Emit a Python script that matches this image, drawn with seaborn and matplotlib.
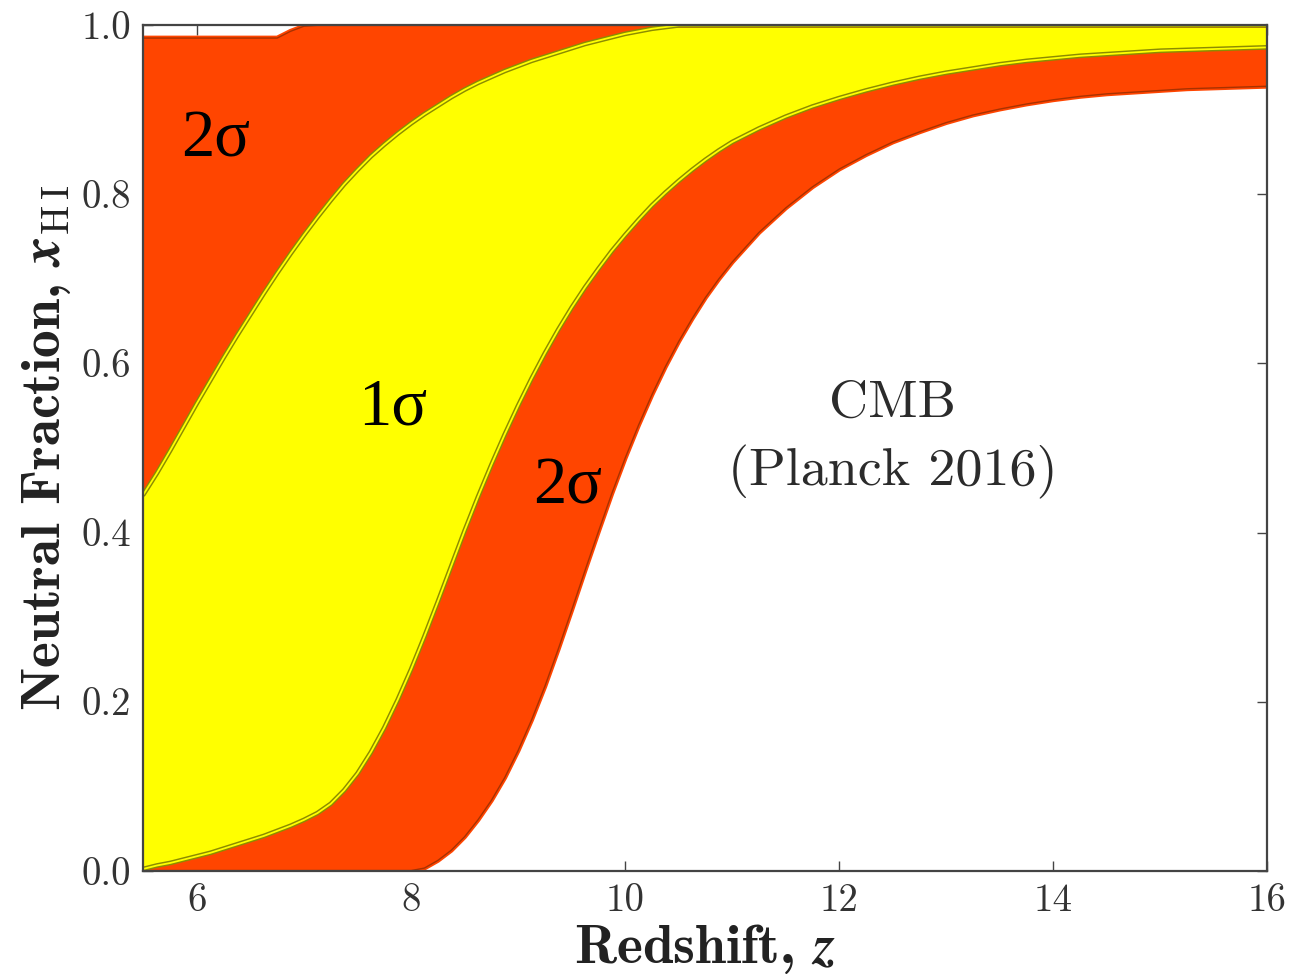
import numpy as np
import pandas as pd
import matplotlib
matplotlib.use('Agg')
import matplotlib.pyplot as plt
import seaborn as sns

# ---- data ----
z = [5.5, 5.625, 5.75, 5.875, 6.0, 6.125, 6.25, 6.375, 6.5, 6.625, 6.75, 6.875,
     7.0, 7.125, 7.25, 7.375, 7.5, 7.625, 7.75, 7.875, 8.0, 8.125, 8.25, 8.375,
     8.5, 8.625, 8.75, 8.875, 9.0, 9.125, 9.25, 9.375, 9.5, 9.625, 9.75, 9.875,
     10.0, 10.125, 10.25, 10.375, 10.5, 10.625, 10.75, 10.875, 11.0,
     11.25, 11.5, 11.75, 12.0, 12.25, 12.5, 12.75, 13.0, 13.25, 13.5, 13.75,
     14.0, 14.25, 14.5, 14.75, 15.0, 15.25, 15.5, 15.75, 16.0]

# upper 2-sigma boundary
upper2 = [0.985] * 11 + [0.993, 0.999] + [1.0] * 52
# upper 1-sigma boundary
upper1 = [0.445, 0.470, 0.497, 0.525, 0.553, 0.580, 0.607, 0.633, 0.658, 0.683,
          0.707, 0.730, 0.752, 0.773, 0.793, 0.812, 0.829, 0.845, 0.859, 0.872,
          0.884, 0.895, 0.905, 0.915, 0.924, 0.932, 0.939, 0.946, 0.952, 0.958,
          0.963, 0.968, 0.973, 0.978, 0.982, 0.986, 0.990, 0.993, 0.996, 0.998,
          1.0] + [1.0] * 24
# lower 1-sigma boundary
lower1 = [0.002, 0.006, 0.009, 0.013, 0.017, 0.021, 0.026, 0.031, 0.036, 0.041,
          0.047, 0.053, 0.060, 0.068, 0.079, 0.095, 0.115, 0.140, 0.169, 0.202,
          0.238, 0.277, 0.318, 0.360, 0.402, 0.442, 0.480, 0.516, 0.550, 0.582,
          0.612, 0.640, 0.666, 0.690, 0.712, 0.733, 0.752, 0.770, 0.787, 0.802,
          0.816, 0.829, 0.841, 0.852, 0.862,
          0.878, 0.892, 0.904, 0.914, 0.923, 0.931, 0.938, 0.944, 0.949, 0.954,
          0.958, 0.961, 0.964, 0.966, 0.968, 0.970, 0.971, 0.972, 0.973, 0.974]
# lower 2-sigma boundary
lower2 = [0.0] * 20 + [0.000, 0.003, 0.012, 0.024, 0.040, 0.060, 0.083, 0.110,
                       0.142, 0.178, 0.218, 0.262, 0.308, 0.355, 0.401, 0.446,
                       0.488, 0.527, 0.563, 0.596, 0.626, 0.653, 0.678, 0.700,
                       0.720,
                       0.755, 0.784, 0.809, 0.830, 0.847, 0.862, 0.874, 0.885,
                       0.894, 0.901, 0.907, 0.912, 0.916, 0.919, 0.921, 0.923,
                       0.925, 0.926, 0.927, 0.928]

xticks = [6, 8, 10, 12, 14, 16]
xtick_labels = ['6', '8', '10', '12', '14', '16']
yticks = [0.0, 0.2, 0.4, 0.6, 0.8, 1.0]
ytick_labels = ['0.0', '0.2', '0.4', '0.6', '0.8', '1.0']

df = pd.DataFrame({'z': z, 'upper2': upper2, 'upper1': upper1,
                   'lower1': lower1, 'lower2': lower2})

sns.set_theme(style='ticks')
plt.rcParams['font.family'] = ['cmr10', 'DejaVu Serif']
plt.rcParams['mathtext.fontset'] = 'cm'
plt.rcParams['axes.formatter.use_mathtext'] = True

RED = '#ff4500'
YEL = '#ffff00'

fig, ax = plt.subplots(figsize=(12.92, 9.76), dpi=100)
fig.subplots_adjust(left=0.111, right=0.981, top=0.974, bottom=0.108)

ax.fill_between(df['z'], df['lower2'], df['upper2'], color=RED, lw=0, zorder=1)
ax.fill_between(df['z'], df['lower1'], df['upper1'], color=YEL, lw=0, zorder=1.5)

for col in ['upper2', 'lower2']:
    sns.lineplot(data=df, x='z', y=col, ax=ax, color=RED, lw=3.5, sort=False,
                 estimator=None, zorder=2)
    sns.lineplot(data=df, x='z', y=col, ax=ax, color='#a83200', lw=1.0, sort=False,
                 estimator=None, zorder=2.1)
for col in ['upper1', 'lower1']:
    sns.lineplot(data=df, x='z', y=col, ax=ax, color='#8c8c00', lw=3.4, sort=False,
                 estimator=None, zorder=2.2)
    sns.lineplot(data=df, x='z', y=col, ax=ax, color=YEL, lw=1.3, sort=False,
                 estimator=None, zorder=2.3)

ax.set_xlim(5.5, 16)
ax.set_ylim(0, 1)
ax.set_xticks(xticks)
ax.set_xticklabels(xtick_labels)
ax.set_yticks(yticks)
ax.set_yticklabels(ytick_labels)
ax.tick_params(direction='in', length=7, width=1, top=True, right=True,
               labelsize=28, color='#444444', labelcolor='#333333', pad=9)

for s in ax.spines.values():
    s.set_color('#444444')
    s.set_linewidth(1.6)
    s.set_zorder(10)

ax.set_xlabel(r'Redshift, $\mathbfit{z}$', fontfamily='cmb10', fontsize=40,
              color='#222222', labelpad=2)
ax.set_ylabel(r'Neutral Fraction, $\mathbfit{x}_{\mathrm{H\,I}}$', fontfamily='cmb10',
              fontsize=40, color='#222222', labelpad=6)

sig_font = ['Liberation Serif', 'DejaVu Serif']
ax.text(6.17, 0.864, '2σ', fontsize=48, family=sig_font, color='black',
        ha='center', va='center', zorder=5)
ax.text(7.83, 0.547, '1σ', fontsize=48, family=sig_font, color='black',
        ha='center', va='center', zorder=5)
ax.text(9.46, 0.454, '2σ', fontsize=48, family=sig_font, color='black',
        ha='center', va='center', zorder=5)

ax.text(12.5, 0.553, 'CMB', fontsize=39, color='#2b2b2b', ha='center', va='center',
        zorder=5)
ax.text(12.5, 0.472, '(Planck 2016)', fontsize=39, color='#2b2b2b', ha='center',
        va='center', zorder=5)

fig.savefig('out.png', dpi=100)
